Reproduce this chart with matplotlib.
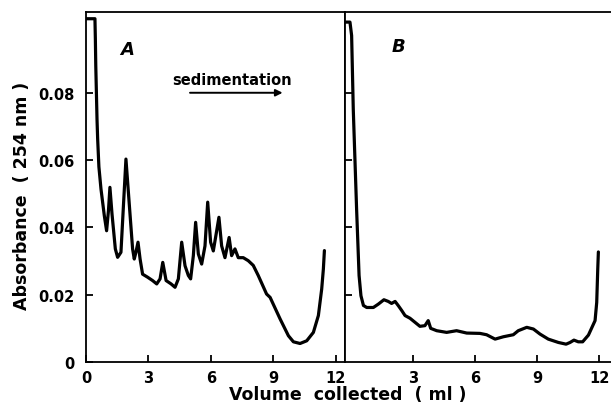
import matplotlib
matplotlib.use("Agg")
import matplotlib.pyplot as plt

# Panel A trace (volume ml, absorbance)
a_x = [0.0, 0.43, 0.45, 0.47, 0.50, 0.53, 0.56, 0.62, 0.72, 0.88, 0.99, 1.08, 1.15, 1.25, 1.41, 1.52,
       1.68, 1.80, 1.92, 2.05, 2.24, 2.32, 2.40, 2.50, 2.60, 2.72, 2.96, 3.20, 3.40, 3.56, 3.69,
       3.85, 4.09, 4.28, 4.44, 4.60, 4.76, 4.92, 5.03, 5.16, 5.27, 5.40, 5.56, 5.72, 5.85,
       5.99, 6.12, 6.39, 6.52, 6.68, 6.88, 7.00, 7.16, 7.32, 7.56, 7.80, 8.04, 8.28, 8.68,
       8.85, 9.33, 9.73, 9.97, 10.29, 10.61, 10.93, 11.17, 11.33, 11.41, 11.46]
a_y = [0.102, 0.102, 0.096, 0.088, 0.080, 0.072, 0.0663, 0.058, 0.0514, 0.0435, 0.039, 0.045, 0.0519, 0.044, 0.0336, 0.0311,
       0.0326, 0.0465, 0.0603, 0.0494, 0.0336, 0.0306, 0.0326, 0.0356, 0.0306, 0.0261, 0.0252, 0.0242, 0.0232, 0.0247, 0.0296,
       0.0242, 0.0232, 0.0222, 0.0247, 0.0356, 0.0286, 0.0257, 0.0247, 0.0316, 0.0415, 0.0321, 0.0291, 0.0345, 0.0475,
       0.0356, 0.0330, 0.0430, 0.0345, 0.0310, 0.0370, 0.0316, 0.0336, 0.0310, 0.0310, 0.0301, 0.0287, 0.0257, 0.0202,
       0.0192, 0.0128, 0.0078, 0.0060, 0.0055, 0.0063, 0.0088, 0.0138, 0.0217, 0.0276, 0.0331]

# Panel B trace
b_x = [-0.29, -0.05, 0.03, 0.11, 0.27, 0.39, 0.48, 0.60, 0.76, 1.08, 1.32, 1.59, 1.80, 1.96, 2.13, 2.29,
       2.45, 2.61, 2.85, 3.09, 3.33, 3.57, 3.73, 3.85, 4.14, 4.62, 5.10, 5.59, 6.23, 6.55,
       6.96, 7.36, 7.84, 8.08, 8.49, 8.81, 9.13, 9.53, 10.02, 10.39, 10.58, 10.77, 10.98,
       11.19, 11.47, 11.79, 11.87, 11.92, 11.95]
b_y = [0.101, 0.101, 0.097, 0.075, 0.0455, 0.0257, 0.0197, 0.0168, 0.0162, 0.0162, 0.0172, 0.0185, 0.0180, 0.0174, 0.0180, 0.0167,
       0.0153, 0.0138, 0.0130, 0.0118, 0.0106, 0.0108, 0.0123, 0.0100, 0.0093, 0.0088, 0.0093, 0.0086, 0.0085, 0.0081,
       0.0068, 0.0075, 0.0081, 0.0093, 0.0103, 0.0098, 0.0083, 0.0068, 0.0058, 0.0053, 0.0058, 0.0065, 0.0060,
       0.0060, 0.0080, 0.0123, 0.0177, 0.0276, 0.0327]

x_ticks = [0, 3, 6, 9, 12]
x_labels = ["0", "3", "6", "9", "12"]
y_ticks = [0, 0.02, 0.04, 0.06, 0.08]
y_labels = ["0", "0.02", "0.04", "0.06", "0.08"]

W, H = 611, 410
fig = plt.figure(figsize=(W / 100, H / 100), dpi=100)

def frac(l, b, r, t):
    return [l / W, (H - b) / H, (r - l) / W, (b - t) / H]

axA = fig.add_axes(frac(86, 363, 345, 13))
axB = fig.add_axes(frac(345, 363, 611, 13))

lw = 2.3
tick_font = dict(fontsize=10.5, fontweight="bold", family="DejaVu Sans")

for ax in (axA, axB):
    for s in ax.spines.values():
        s.set_linewidth(1.3)
    ax.tick_params(direction="in", length=5, width=1.3, pad=6)
    ax.set_ylim(0, 0.104)

axA.plot(a_x, a_y, color="black", lw=lw, solid_joinstyle="round", solid_capstyle="round")
axA.set_xlim(0, 12.45)
axA.set_xticks(x_ticks)
axA.set_xticklabels(x_labels, **tick_font)
axA.set_yticks(y_ticks)
axA.set_yticklabels(y_labels, **tick_font)
axA.tick_params(axis="y", pad=8)

axB.plot(b_x, b_y, color="black", lw=lw, solid_joinstyle="round", solid_capstyle="round")
axB.set_xlim(-0.29, 12.56)
axB.spines["right"].set_visible(False)
axB.set_xticks(x_ticks[1:])
axB.set_xticklabels(x_labels[1:], **tick_font)
axB.set_yticks(y_ticks[1:])
axB.tick_params(axis="y", labelleft=False)

axA.text(2.0, 0.093, "A", fontsize=13, fontstyle="italic", fontweight="bold", ha="center", va="center")
axB.text(2.3, 0.094, "B", fontsize=13, fontstyle="italic", fontweight="bold", ha="center", va="center")

axA.text(7.0, 0.0838, "sedimentation", fontsize=10.5, fontweight="bold", ha="center", va="center")
axA.annotate("", xy=(9.45, 0.0800), xytext=(5.0, 0.0800),
             arrowprops=dict(arrowstyle="-|>", color="black", lw=1.4,
                             mutation_scale=10, shrinkA=0, shrinkB=0))

fig.text(22 / W, 1 - 196 / H, "Absorbance  ( 254 nm )", rotation=90, fontsize=12.5,
         fontweight="bold", ha="center", va="center")
fig.text(348 / W, 1 - 395 / H, "Volume  collected  ( ml )", fontsize=12.5,
         fontweight="bold", ha="center", va="center")

fig.savefig("out.png", dpi=100)
